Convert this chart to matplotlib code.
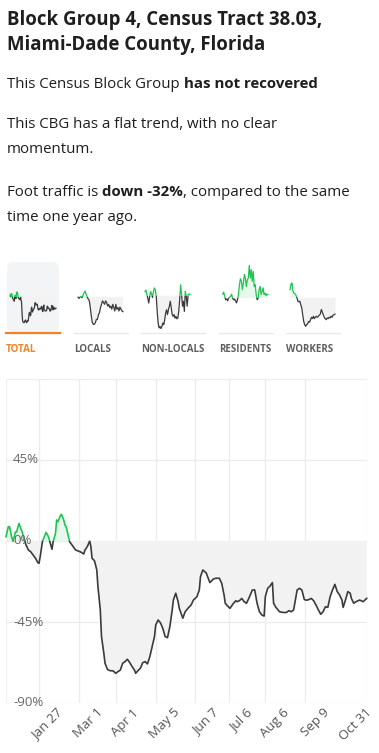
import numpy as np
import matplotlib
matplotlib.use("Agg")
import matplotlib.pyplot as plt
from matplotlib.patches import Rectangle, FancyBboxPatch
import matplotlib.transforms as mtransforms

plt.rcParams['font.family'] = ['Open Sans', 'DejaVu Sans']

# ---------------- data ----------------
# main series: days since 2019-12-30, % change vs. one year ago
day_offsets = [0, 2, 3, 5, 6, 8, 9, 11, 12, 14, 15, 17, 19, 21, 23, 25, 27, 28, 29, 31,
               32, 34, 36, 37, 39, 40, 42, 43, 44, 46, 47, 49, 50, 51, 53, 54, 57, 59, 63, 66,
               67, 69, 71, 72, 73, 75, 77, 78, 80, 81, 83, 84, 86, 88, 91, 93, 95, 97, 99, 101,
               103, 105, 107, 109, 110, 112, 114, 116, 118, 120, 122, 124, 126, 127, 129, 131, 133, 135, 137, 139,
               141, 142, 144, 146, 147, 150, 152, 155, 157, 159, 162, 164, 165, 167, 170, 171, 173, 176, 178, 181,
               183, 185, 186, 188, 190, 193, 195, 196, 198, 200, 202, 204, 206, 209, 211, 213, 215, 217, 219, 220,
               222, 224, 226, 227, 229, 232, 235, 238, 240, 242, 244, 246, 247, 249, 251, 253, 254, 256, 259, 261,
               263, 265, 267, 269, 271, 273, 275, 277, 279, 281, 283, 285, 286, 288, 290, 292, 293, 295, 297, 300,
               303, 306]
total_values = [2.4, 8, 8, 1.6, 0, 5, 5, 9.8, 8, 4.4, 1.6, -2.2, -5, -6, -7.8, -9.6, -12, -12.4, -8.7, 0,
                1.5, 4.8, 2.4, 0, -4.6, -0.4, 4.3, 11.7, 10.7, 13.9, 14.8, 11.7, 8.9, 8, 2.4, -0.4, -3.1, -5, -6, -7.2,
                -5, -3.1, 0, -3.1, -9.6, -10.9, -16, -25.4, -38.3, -53, -62.4, -67.9, -71.3, -72, -72.2, -73.5, -72.6, -71.7, -67.9, -67,
                -65.7, -67.6, -69.8, -71.7, -73.5, -72, -70.7, -67.6, -67, -68.3, -64.3, -58.7, -53, -46.7, -43.9, -45.4, -48.5, -53.1, -53.7, -47.6,
                -38.3, -32.8, -29, -33.7, -37.4, -42.9, -39.3, -36.9, -35.6, -32.8, -30.9, -27.2, -19.8, -16.1, -17.9, -19.8, -23.1, -21.1, -20.7, -20.7,
                -23.5, -30, -34.6, -36.1, -37.4, -34.6, -33.2, -33.7, -33.2, -31.9, -33.7, -34.6, -31.9, -27.2, -27.2, -34.6, -39.3, -41.1, -41.7, -30.9,
                -26.3, -25, -23.1, -34.6, -36.9, -39.3, -39.7, -39.7, -38.7, -39.3, -38.3, -30.9, -27.2, -26.3, -27.2, -32.4, -32.8, -32.8, -31.9, -33.2,
                -35.6, -38.3, -40.7, -39.3, -36.5, -36.9, -30.9, -27.2, -24.1, -28.1, -30, -32.8, -36.9, -32.8, -28.1, -29, -31.9, -34.6, -33.7, -32.8,
                -33.7, -31.9]

locals_values = [0, -4, 0, 2, -2, 6, 13, 17, 8, 0, -6, -10, -30, -54, -73, -78, -78, -73, -64, -64,
                 -50, -45, -30, -21, -11, -16, -21, -11, -16, -26, -21, -30, -26, -35, -21, -30, -40, -21, -35, -30,
                 -40, -29, -35, -40, -42]
nonlocals_values = [12, 16, 3, -7, -21, -2, 12, 5, -5, 12, 22, 17, -2, -45, -78, -92, -88, -94, -88, -78,
                    -83, -69, -50, -40, -54, -40, -30, -16, -35, -54, -59, -54, -64, -59, -66, -64, -45, -11, 31, 3,
                    -30, -16, -45, 12, -2, -30, 3, 5, 3]
residents_values = [11, 17, 5, -5, -3, -8, 0, 2, 5, 11, 0, -5, -3, -8, -14, -5, 10, 38, 55, 48,
                    24, 43, 67, 57, 33, 52, 57, 93, 57, 81, 48, 76, 33, 38, 10, -5, 0, 24, 33, 10,
                    19, 29, 10, 14, 7, 11, 10]
workers_values = [22, 38, 41, 17, 12, 10, 6, 0, -11, -13, -11, -21, -30, -50, -69, -78, -83, -78, -76, -69,
                  -71, -64, -57, -61, -54, -61, -57, -54, -57, -54, -51, -48, -35, -42, -50, -57, -61, -64, -59, -61,
                  -57, -59, -54, -57, -51, -50, -48]

tab_labels = ["TOTAL", "LOCALS", "NON-LOCALS", "RESIDENTS", "WORKERS"]

tick_offsets = [28, 62, 93, 127, 160, 189, 220, 254, 306]
tick_labels = ["Jan 27", "Mar 1", "Apr 1", "May 5", "Jun 7", "Jul 6", "Aug 6", "Sep 9", "Oct 31"]
ytick_values = [45, 0, -45, -90]
ytick_labels = ["45%", "0%", "-45%", "-90%"]

title_lines = ["Block Group 4, Census Tract 38.03,", "Miami-Dade County, Florida"]

# ---------------- figure ----------------
W, H = 379, 753
fig = plt.figure(figsize=(W / 100, H / 100), dpi=100)
fig.patch.set_facecolor('white')
R = fig.canvas.get_renderer()

GREEN = '#1fc450'
DARK = '#3b3b3b'
GRAYFILL = '#f2f2f2'
GREENFILL = '#e8f8ec'
TXT = '#1e1e1e'


def px_axes(x0, y0, x1, y1):
    return fig.add_axes([x0 / W, 1 - y1 / H, (x1 - x0) / W, (y1 - y0) / H])


def text_w(s, size, weight):
    t = fig.text(0, 0, s, fontsize=size, fontweight=weight)
    w = t.get_window_extent(R).width
    t.remove()
    return w


def space_w(size, weight):
    return text_w("a a", size, weight) - text_w("aa", size, weight)


def rich_line(x_px, base_py, parts, size, color=TXT, draw=True):
    x = x_px
    arts = []
    for s, wt in parts:
        lead = len(s) - len(s.lstrip(' '))
        trail = len(s) - len(s.rstrip(' '))
        sw = space_w(size, wt)
        x += lead * sw
        core = s.strip(' ')
        t = fig.text(x / W, 1 - base_py / H, core, fontsize=size, fontweight=wt,
                     va='baseline', ha='left', color=color)
        x = t.get_window_extent(R).x1 + trail * sw
        arts.append(t)
    if not draw:
        for a in arts:
            a.remove()
    return x - x_px


# title
ts = 12 * 315 / text_w(title_lines[0], 12, 'bold')
fig.text(7 / W, 1 - 25 / H, title_lines[0], fontsize=ts, fontweight='bold', va='baseline', color=TXT)
fig.text(7 / W, 1 - 50 / H, title_lines[1], fontsize=ts, fontweight='bold', va='baseline', color=TXT)

# body text
line1 = [("This Census Block Group ", 'normal'), ("has not recovered", 'bold')]
bs = 11 * 311 / rich_line(7, 0, line1, 11, draw=False)
rich_line(7, 87.5, line1, bs)
rich_line(7, 128.5, [("This CBG has a flat trend, with no clear", 'normal')], bs)
rich_line(7, 153, [("momentum.", 'normal')], bs)
rich_line(7, 196.5, [("Foot traffic is ", 'normal'), ("down -32%", 'bold'),
                     (", compared to the same", 'normal')], bs)
rich_line(7, 221, [("time one year ago.", 'normal')], bs)


# ---------------- thumbnails ----------------
def draw_series(ax, x, y, lw, fill=True):
    x = np.asarray(x, float)
    y = np.asarray(y, float)
    if fill:
        ax.fill_between(x, y, 0, where=y < 0, interpolate=True, color=GRAYFILL, lw=0, zorder=1)
        ax.fill_between(x, y, 0, where=y > 0, interpolate=True, color=GREENFILL, lw=0, zorder=1)
    neg, = ax.plot(x, y, color=DARK, lw=lw, zorder=3, solid_joinstyle='round')
    pos, = ax.plot(x, y, color=GREEN, lw=lw, zorder=3, solid_joinstyle='round')
    neg.set_clip_path(Rectangle((-1000, -1000), 3000, 1000, transform=ax.transData))
    pos.set_clip_path(Rectangle((-1000, 0), 3000, 1000, transform=ax.transData))


# tab background (selected)
bg = FancyBboxPatch((7 / W, 1 - 332 / H), 52 / W, 70 / H,
                    boxstyle="round,pad=0,rounding_size=0.016",
                    transform=fig.transFigure, facecolor='#f3f4f6',
                    edgecolor='none', zorder=-5, mutation_aspect=W / H)
fig.patches.append(bg)

thumb_series = [(day_offsets, total_values),
                (list(range(len(locals_values))), locals_values),
                (list(range(len(nonlocals_values))), nonlocals_values),
                (list(range(len(residents_values))), residents_values),
                (list(range(len(workers_values))), workers_values)]
thumb_x = [(10, 56), (78, 123), (145, 190), (222.7, 268), (290, 335)]
thumb_zero = [297, 297, 295.7, 298, 297.3]
under_x = [(6, 60), (74, 128), (141, 205), (219, 273), (286, 340)]

for i, ((xs, ys), (x0, x1), z0, (u0, u1), lab) in enumerate(
        zip(thumb_series, thumb_x, thumb_zero, under_x, tab_labels)):
    tax = px_axes(x0, z0 - 35, x1, z0 + 35)
    tax.set_zorder(2)
    tax.set_xlim(min(xs), max(xs))
    tax.set_ylim(-100, 100)
    tax.axis('off')
    tax.patch.set_alpha(0)
    draw_series(tax, xs, ys, 0.9)
    sel = (i == 0)
    fig.add_artist(plt.Line2D([u0 / W, u1 / W], [1 - 333.3 / H] * 2, transform=fig.transFigure,
                              color='#f5821f' if sel else '#e8e8e8', lw=1.6 if sel else 0.9))

lab_size = 8 * 63.7 / text_w("NON-LOCALS", 8, 'bold')
for (u0, u1), lab, i in zip(under_x, tab_labels, range(5)):
    fig.text(u0 / W, 1 - 349.5 / H, lab, fontsize=lab_size, fontweight='bold',
             color='#f5821f' if i == 0 else '#5e5e5e', va='center', ha='left')

# ---------------- main chart ----------------
ax = px_axes(6, 379, 366.7, 703)
ax.set_xlim(0, 306)
ax.set_ylim(-90, 90)
for s in ax.spines.values():
    s.set_visible(False)
ax.set_xticks(tick_offsets)
ax.set_xticklabels([])
ax.set_yticks([-90, -45, 0, 45, 90])
ax.set_yticklabels([])
ax.tick_params(length=0)
ax.grid(True, color='#ececec', lw=0.9, zorder=0)
ax.set_axisbelow(True)
ax.axvline(0, color='#f0f0f0', lw=0.9, zorder=0)
draw_series(ax, day_offsets, total_values, 1.2)

bt = mtransforms.blended_transform_factory(ax.transAxes, ax.transData)
for v, l in zip(ytick_values, ytick_labels):
    ax.text(7 / 360.7, v, l, transform=bt, ha='left', va='center', fontsize=9.5,
            color='#666666', zorder=5)

for i, (xo, l) in enumerate(zip(tick_offsets, tick_labels)):
    dx = 17 if i < len(tick_offsets) - 1 else -2
    tr = mtransforms.offset_copy(ax.transData, fig=fig, x=dx, y=-3, units='dots')
    ax.text(xo, -90, l, transform=tr, rotation=45, rotation_mode='anchor', ha='right',
            va='top', fontsize=9.5, color='#555555', clip_on=False)

fig.savefig("out.png", dpi=100, facecolor='white')
